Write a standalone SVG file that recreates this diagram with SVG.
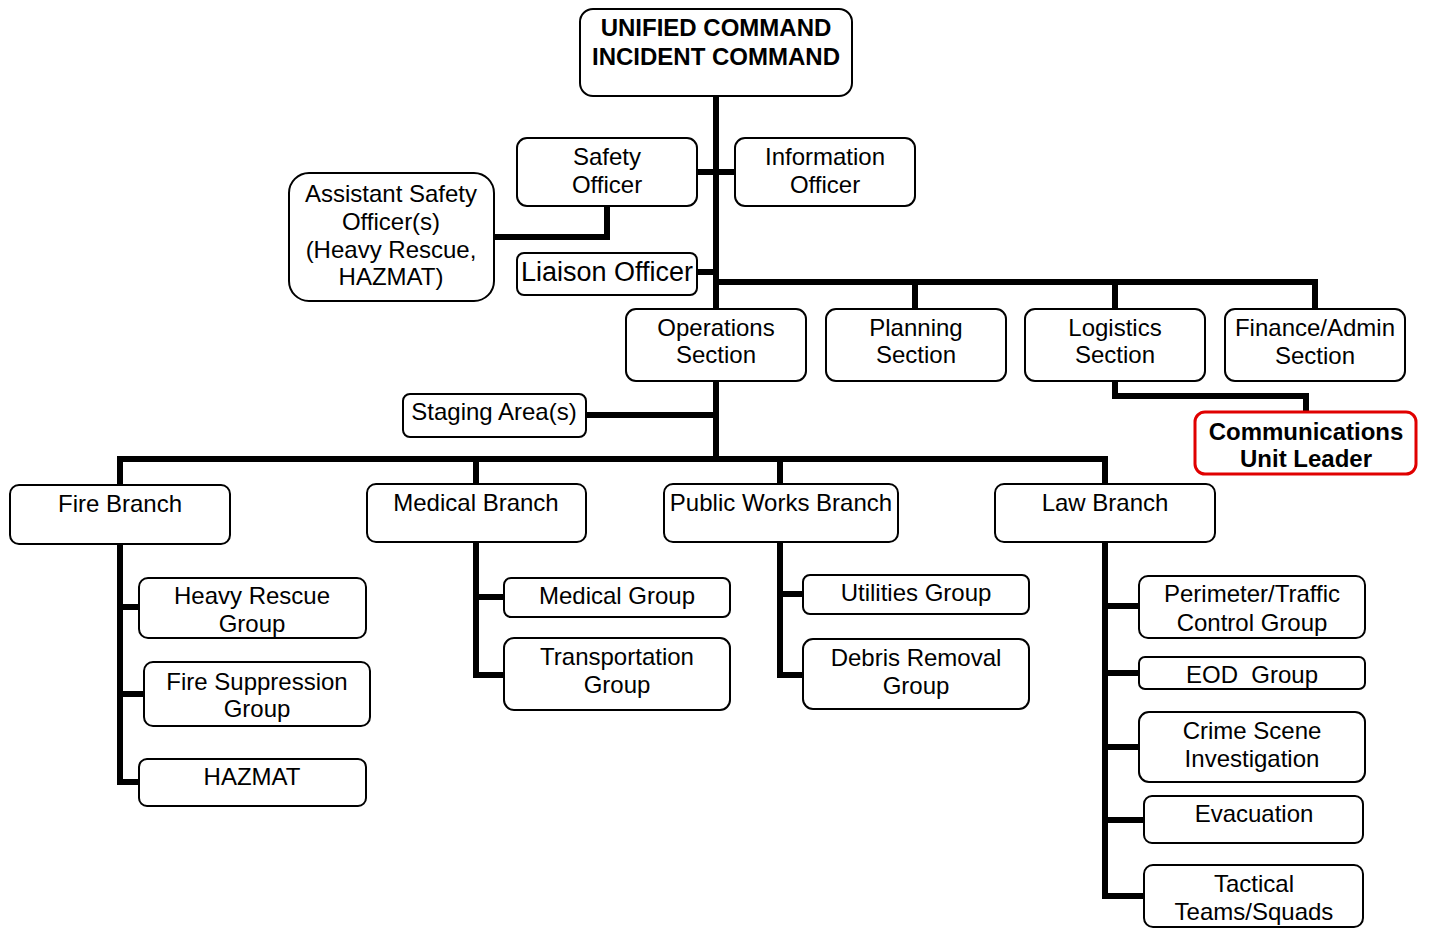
<svg xmlns="http://www.w3.org/2000/svg" width="1429" height="928" viewBox="0 0 1429 928">
<style>
.b{fill:#fff;stroke:#000;stroke-width:2}
.r{fill:#fff;stroke:#e00000;stroke-width:3}
.t{font-family:"Liberation Sans",Arial,sans-serif;font-size:24px;fill:#000;text-anchor:middle}
.bd{font-weight:bold}
.c{fill:none;stroke:#000;stroke-width:6;stroke-linejoin:miter;stroke-linecap:butt}
</style>
<rect width="1429" height="928" fill="#fff"/>
<g id="connectors">
<path class="c" d="M716 96V459"/>
<path class="c" d="M697 172H735"/>
<path class="c" d="M607 206V237H494"/>
<path class="c" d="M697 272H716"/>
<path class="c" d="M716 282H1315V309M915 282V309M1115 282V309"/>
<path class="c" d="M1115 381V396H1306V412"/>
<path class="c" d="M586 415H716"/>
<path class="c" d="M120 485V459H1105V484M476 459V484M780 459V484"/>
<path class="c" d="M120 544V782H139M120 607H139M120 694H144"/>
<path class="c" d="M476 542V675H504M476 597H504"/>
<path class="c" d="M780 542V675H803M780 594H803"/>
<path class="c" d="M1105 542V896H1144M1105 606H1139M1105 673H1139M1105 747H1139M1105 820H1144"/>
</g>
<g id="n-uc"><rect class="b" x="580" y="9" width="272" height="87" rx="13"/><text class="t bd" x="716" y="36">UNIFIED COMMAND</text><text class="t bd" x="716" y="65">INCIDENT COMMAND</text></g>
<g id="n-safety"><rect class="b" x="517" y="138" width="180" height="68" rx="10"/><text class="t" x="607" y="165">Safety</text><text class="t" x="607" y="193">Officer</text></g>
<g id="n-info"><rect class="b" x="735" y="138" width="180" height="68" rx="10"/><text class="t" x="825" y="165">Information</text><text class="t" x="825" y="193">Officer</text></g>
<g id="n-asst"><rect class="b" x="289" y="173" width="205" height="128" rx="20"/><text class="t" x="391" y="202">Assistant Safety</text><text class="t" x="391" y="230">Officer(s)</text><text class="t" x="391" y="258">(Heavy Rescue,</text><text class="t" x="391" y="285">HAZMAT)</text></g>
<g id="n-liaison"><rect class="b" x="517" y="253" width="180" height="42" rx="7"/><text class="t" x="607" y="281" style="font-size:27px">Liaison Officer</text></g>
<g id="n-ops"><rect class="b" x="626" y="309" width="180" height="72" rx="10"/><text class="t" x="716" y="336">Operations</text><text class="t" x="716" y="363">Section</text></g>
<g id="n-plan"><rect class="b" x="826" y="309" width="180" height="72" rx="10"/><text class="t" x="916" y="336">Planning</text><text class="t" x="916" y="363">Section</text></g>
<g id="n-log"><rect class="b" x="1025" y="309" width="180" height="72" rx="10"/><text class="t" x="1115" y="336">Logistics</text><text class="t" x="1115" y="363">Section</text></g>
<g id="n-fin"><rect class="b" x="1225" y="309" width="180" height="72" rx="10"/><text class="t" x="1315" y="336">Finance/Admin</text><text class="t" x="1315" y="364">Section</text></g>
<g id="n-comm"><rect class="r" x="1195" y="412" width="221" height="62" rx="10"/><text class="t bd" x="1306" y="440">Communications</text><text class="t bd" x="1306" y="467">Unit Leader</text></g>
<g id="n-staging"><rect class="b" x="403" y="394" width="183" height="43" rx="7"/><text class="t" x="494" y="420">Staging Area(s)</text></g>
<g id="n-fire"><rect class="b" x="10" y="485" width="220" height="59" rx="9"/><text class="t" x="120" y="512">Fire Branch</text></g>
<g id="n-med"><rect class="b" x="367" y="484" width="219" height="58" rx="9"/><text class="t" x="476" y="511">Medical Branch</text></g>
<g id="n-pw"><rect class="b" x="664" y="484" width="234" height="58" rx="9"/><text class="t" x="781" y="511">Public Works Branch</text></g>
<g id="n-law"><rect class="b" x="995" y="484" width="220" height="58" rx="9"/><text class="t" x="1105" y="511">Law Branch</text></g>
<g id="n-heavy"><rect class="b" x="139" y="578" width="227" height="60" rx="9"/><text class="t" x="252" y="604">Heavy Rescue</text><text class="t" x="252" y="632">Group</text></g>
<g id="n-firesup"><rect class="b" x="144" y="662" width="226" height="64" rx="9"/><text class="t" x="257" y="690">Fire Suppression</text><text class="t" x="257" y="717">Group</text></g>
<g id="n-hazmat"><rect class="b" x="139" y="759" width="227" height="47" rx="8"/><text class="t" x="252" y="785">HAZMAT</text></g>
<g id="n-medgrp"><rect class="b" x="504" y="578" width="226" height="39" rx="7"/><text class="t" x="617" y="604">Medical Group</text></g>
<g id="n-trans"><rect class="b" x="504" y="638" width="226" height="72" rx="10"/><text class="t" x="617" y="665">Transportation</text><text class="t" x="617" y="693">Group</text></g>
<g id="n-util"><rect class="b" x="803" y="575" width="226" height="39" rx="7"/><text class="t" x="916" y="601">Utilities Group</text></g>
<g id="n-debris"><rect class="b" x="803" y="639" width="226" height="70" rx="10"/><text class="t" x="916" y="666">Debris Removal</text><text class="t" x="916" y="694">Group</text></g>
<g id="n-perim"><rect class="b" x="1139" y="576" width="226" height="62" rx="9"/><text class="t" x="1252" y="602">Perimeter/Traffic</text><text class="t" x="1252" y="631">Control Group</text></g>
<g id="n-eod"><rect class="b" x="1139" y="657" width="226" height="32" rx="6"/><text class="t" x="1252" y="683" xml:space="preserve">EOD  Group</text></g>
<g id="n-crime"><rect class="b" x="1139" y="712" width="226" height="70" rx="10"/><text class="t" x="1252" y="739">Crime Scene</text><text class="t" x="1252" y="767">Investigation</text></g>
<g id="n-evac"><rect class="b" x="1144" y="796" width="219" height="47" rx="8"/><text class="t" x="1254" y="822">Evacuation</text></g>
<g id="n-tact"><rect class="b" x="1144" y="865" width="219" height="62" rx="9"/><text class="t" x="1254" y="892">Tactical</text><text class="t" x="1254" y="920">Teams/Squads</text></g>
</svg>
